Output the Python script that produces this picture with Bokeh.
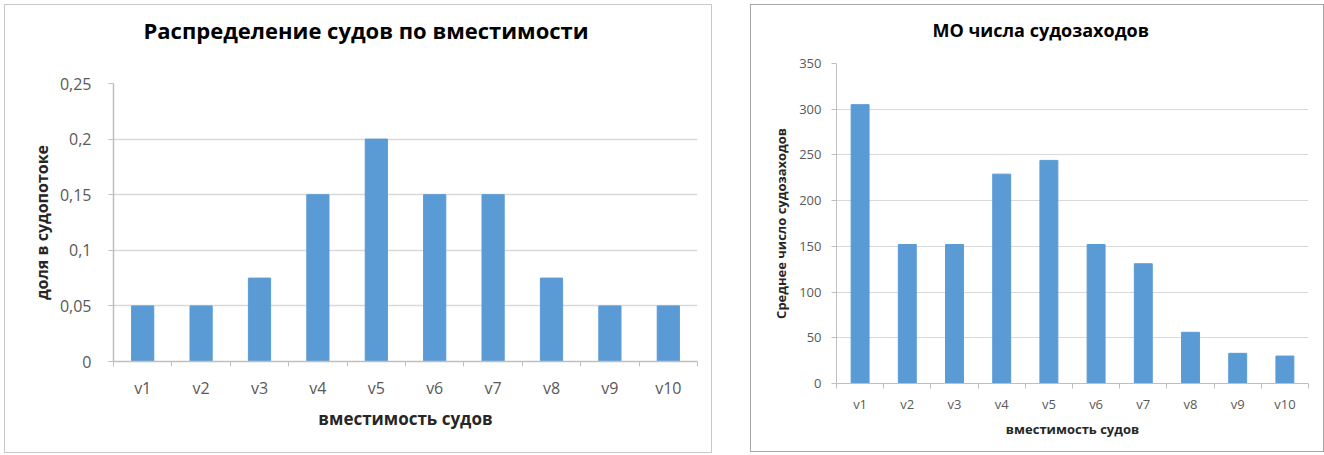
from bokeh.plotting import figure
from bokeh.models import Range1d, FixedTicker, Title
from bokeh.embed import file_html
from bokeh.resources import INLINE

# Vessel capacity classes
categories = ["v1", "v2", "v3", "v4", "v5", "v6", "v7", "v8", "v9", "v10"]

# Share of each class in the vessel flow
share = [0.05, 0.05, 0.075, 0.15, 0.2, 0.15, 0.15, 0.075, 0.05, 0.05]
share_ticks = [0, 0.05, 0.1, 0.15, 0.2, 0.25]
share_tick_labels = ["0", "0,05", "0,1", "0,15", "0,2", "0,25"]

# Expected number of port calls per class
calls = [305, 152, 152, 229, 244, 152, 131, 56, 33, 30]
calls_ticks = [0, 50, 100, 150, 200, 250, 300, 350]
calls_tick_labels = [str(t) for t in calls_ticks]

FONT = "Open Sans"
BAR = "#5B9BD5"
GRID = "#d9d9d9"
AXIS = "#bfbfbf"
LABEL = "#595959"

positions = list(range(1, len(categories) + 1))
boundaries = [p - 0.5 for p in positions] + [positions[-1] + 0.5]


def style(p, title, xlabel, ylabel, yticks, ylabels, sizes, gap, offset):
    title_size, tick_size, xlab_size, ylab_size, lw = sizes
    p.outline_line_color = None
    p.background_fill_color = "white"
    p.border_fill_color = "white"

    p.title.text = title
    p.title.align = "left"
    p.title.offset = offset
    p.title.standoff = 0
    p.title.text_font = FONT
    p.title.text_font_style = "bold"
    p.title.text_font_size = title_size
    p.title.text_color = "black"

    # blank row between the heading and the plot area
    spacer = Title(text=" ", text_font_size="10px", standoff=gap)
    p.add_layout(spacer, "above")

    xa = p.xaxis[0]
    xa.ticker = FixedTicker(ticks=positions, minor_ticks=boundaries)
    xa.major_label_overrides = {pos: cat for pos, cat in zip(positions, categories)}
    xa.major_tick_out = 0
    xa.major_tick_in = 0
    xa.minor_tick_out = 5
    xa.minor_tick_in = 0
    xa.minor_tick_line_color = AXIS
    xa.axis_line_color = AXIS
    xa.axis_line_width = lw
    xa.major_label_text_font = FONT
    xa.major_label_text_font_size = tick_size
    xa.major_label_text_color = LABEL
    xa.axis_label = xlabel
    xa.axis_label_text_font = FONT
    xa.axis_label_text_font_style = "bold"
    xa.axis_label_text_font_size = xlab_size
    xa.axis_label_text_color = "#262626"

    ya = p.yaxis[0]
    ya.ticker = FixedTicker(ticks=yticks)
    ya.major_label_overrides = {t: lab for t, lab in zip(yticks, ylabels)}
    ya.major_tick_out = 5
    ya.major_tick_in = 0
    ya.minor_tick_out = 0
    ya.minor_tick_in = 0
    ya.major_tick_line_color = AXIS
    ya.axis_line_color = AXIS
    ya.axis_line_width = lw
    ya.major_label_text_font = FONT
    ya.major_label_text_font_size = tick_size
    ya.major_label_text_color = LABEL
    ya.axis_label = ylabel
    ya.axis_label_text_font = FONT
    ya.axis_label_text_font_style = "bold"
    ya.axis_label_text_font_size = ylab_size
    ya.axis_label_text_color = "#262626"

    p.xgrid.visible = False
    p.ygrid.grid_line_color = GRID
    p.ygrid.grid_line_width = lw


# Left chart: distribution of vessels by capacity
p1 = figure(width=708, height=449, x_range=Range1d(0.5, 10.5), y_range=Range1d(0, 0.25),
            output_backend="svg", toolbar_location=None,
            min_border_left=108, min_border_right=16, min_border_top=78, min_border_bottom=93)
p1.vbar(x=positions, top=share, width=0.38, color=BAR)
style(p1, "Распределение  судов по вместимости", "вместимость судов", "доля в судопотоке",
      share_ticks, share_tick_labels, ("22px", "16px", "17px", "16px", 1.5), 26, 30)
p1.xaxis[0].major_label_standoff = 10
p1.xaxis[0].axis_label_standoff = 5
p1.yaxis[0].major_label_standoff = 17
p1.yaxis[0].axis_label_standoff = 4
p1.styles = {"position": "absolute", "left": "4px", "top": "4px",
             "border": "1px solid #c8c8c8"}

# Right chart: expected number of port calls
p2 = figure(width=574, height=448, x_range=Range1d(0.5, 10.5), y_range=Range1d(0, 350),
            output_backend="svg", toolbar_location=None,
            min_border_left=85, min_border_right=17, min_border_top=58, min_border_bottom=70)
p2.vbar(x=positions, top=calls, width=0.38, color=BAR)
style(p2, "МО числа судозаходов", "вместимость судов", "Среднее число судозаходов",
      calls_ticks, calls_tick_labels, ("18px", "13px", "13px", "13px", 1), 9, 96)
p2.xaxis[0].major_label_standoff = 6
p2.xaxis[0].axis_label_standoff = 4
p2.yaxis[0].major_label_standoff = 10
p2.yaxis[0].axis_label_standoff = 6
p2.styles = {"position": "absolute", "left": "750px", "top": "4px",
             "border": "1px solid #a6a6a6"}

with open("out.html", "w") as f:
    f.write(file_html([p1, p2], INLINE))
